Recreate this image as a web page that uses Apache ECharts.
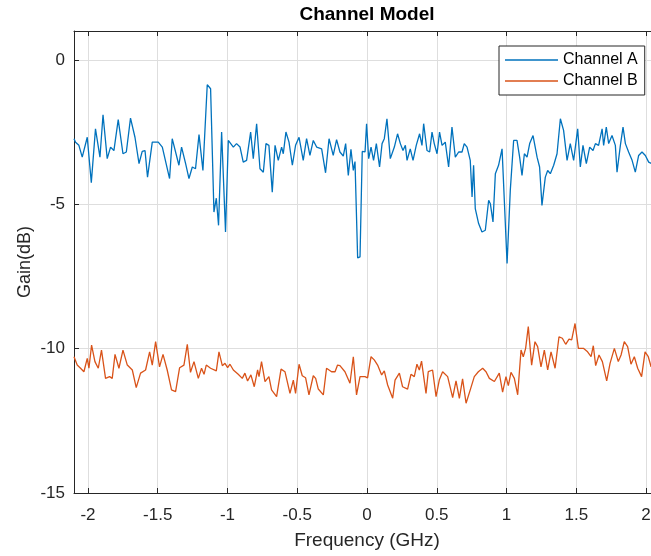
<!DOCTYPE html>
<html>
<head>
<meta charset="utf-8">
<script src="https://cdn.jsdelivr.net/npm/echarts@6/dist/echarts.min.js"></script>
<style>
    html, body { margin: 0; padding: 0; background: #fff; }
    #echart { width: 651px; height: 556px; }
</style>
</head>
<body>
<div id="echart"></div>
<script>
// Channel A: frequency (GHz) / gain (dB)
var freqA = [-2.100,-2.089,-2.077,-2.065,-2.041,-2.005,-1.976,-1.946,-1.914,-1.892,
    -1.862,-1.838,-1.814,-1.783,-1.749,-1.725,-1.695,-1.663,-1.634,-1.611,
    -1.591,-1.573,-1.539,-1.496,-1.467,-1.415,-1.396,-1.348,-1.329,-1.300,
    -1.276,-1.252,-1.229,-1.204,-1.176,-1.145,-1.121,-1.097,-1.080,-1.064,
    -1.042,-1.014,-0.994,-0.958,-0.935,-0.910,-0.887,-0.863,-0.834,-0.815,
    -0.791,-0.767,-0.743,-0.724,-0.703,-0.679,-0.659,-0.636,-0.612,-0.600,
    -0.581,-0.559,-0.535,-0.512,-0.487,-0.457,-0.433,-0.409,-0.385,-0.361,
    -0.325,-0.297,-0.272,-0.242,-0.218,-0.194,-0.170,-0.153,-0.134,-0.115,
    -0.098,-0.086,-0.067,-0.050,-0.034,-0.014,-0.003,0.012,0.029,0.047,
    0.067,0.090,0.108,0.124,0.143,0.167,0.196,0.219,0.239,0.258,
    0.275,0.287,0.310,0.330,0.353,0.377,0.394,0.406,0.430,0.449,
    0.466,0.482,0.502,0.520,0.538,0.561,0.585,0.609,0.633,0.657,
    0.681,0.697,0.717,0.740,0.753,0.764,0.776,0.800,0.824,0.848,
    0.872,0.884,0.903,0.920,0.943,0.968,1.004,1.027,1.051,1.075,
    1.094,1.111,1.128,1.147,1.166,1.190,1.219,1.237,1.254,1.278,
    1.295,1.314,1.338,1.362,1.386,1.409,1.434,1.457,1.481,1.510,
    1.529,1.548,1.572,1.596,1.620,1.637,1.660,1.685,1.696,1.715,
    1.732,1.756,1.780,1.792,1.816,1.835,1.852,1.875,1.900,1.923,
    1.947,1.971,1.995,2.019,2.038,2.060,2.080,2.100];
var gainA = [-2.73,-2.85,-2.89,-2.96,-3.37,-2.68,-4.25,-2.39,-3.37,-1.90,
    -3.42,-3.02,-3.14,-2.07,-3.25,-3.19,-2.02,-2.68,-3.59,-3.17,
    -3.14,-4.06,-2.85,-2.85,-3.02,-4.11,-2.73,-3.65,-3.02,-3.59,
    -4.11,-3.71,-3.77,-2.59,-3.83,-0.86,-1.00,-5.27,-4.79,-5.73,
    -2.50,-5.96,-2.79,-3.02,-2.90,-3.02,-3.54,-3.48,-2.50,-3.42,
    -2.21,-3.77,-3.89,-2.90,-2.96,-4.58,-2.96,-3.48,-3.02,-3.25,
    -2.50,-2.85,-3.65,-2.96,-2.68,-3.48,-2.73,-3.31,-2.79,-3.02,
    -3.08,-3.91,-2.73,-3.31,-2.76,-3.19,-3.33,-2.90,-4.00,-3.10,
    -3.83,-3.52,-6.86,-6.82,-3.17,-3.19,-2.21,-3.42,-3.02,-3.48,
    -2.90,-3.71,-2.90,-2.73,-2.04,-3.42,-3.02,-2.56,-2.90,-3.14,
    -2.96,-3.48,-3.08,-3.48,-2.96,-2.56,-2.96,-2.21,-3.14,-3.19,
    -2.50,-2.90,-3.25,-2.50,-2.96,-2.85,-3.71,-2.33,-3.37,-3.19,
    -3.19,-2.90,-3.02,-3.48,-4.75,-3.65,-5.15,-5.67,-5.96,-5.90,
    -4.86,-4.98,-5.61,-3.94,-3.65,-3.08,-7.05,-4.52,-2.79,-2.79,
    -3.37,-4.00,-3.25,-3.37,-2.90,-2.62,-3.37,-3.71,-5.04,-4.06,
    -3.83,-3.94,-3.65,-3.25,-2.04,-2.44,-3.48,-2.90,-3.48,-2.39,
    -3.71,-2.96,-3.59,-3.02,-3.14,-2.90,-2.96,-2.39,-2.96,-2.33,
    -2.90,-2.62,-2.96,-3.89,-2.96,-2.33,-2.90,-3.19,-3.48,-3.89,
    -3.31,-3.19,-3.31,-3.54,-3.59,-3.40,-3.60,-3.50];

// Channel B
var freqB = [-2.100,-2.077,-2.053,-2.029,-2.005,-1.993,-1.974,-1.950,-1.926,-1.903,
    -1.874,-1.845,-1.826,-1.806,-1.778,-1.749,-1.718,-1.682,-1.654,-1.623,
    -1.587,-1.558,-1.539,-1.515,-1.487,-1.462,-1.432,-1.401,-1.372,-1.343,
    -1.312,-1.288,-1.265,-1.240,-1.209,-1.186,-1.168,-1.152,-1.121,-1.080,
    -1.061,-1.037,-1.018,-0.999,-0.982,-0.958,-0.923,-0.894,-0.875,-0.856,
    -0.832,-0.808,-0.784,-0.774,-0.756,-0.731,-0.703,-0.684,-0.648,-0.616,
    -0.588,-0.552,-0.528,-0.512,-0.487,-0.464,-0.440,-0.416,-0.385,-0.368,
    -0.349,-0.313,-0.290,-0.254,-0.229,-0.211,-0.194,-0.158,-0.122,-0.098,
    -0.075,-0.050,-0.014,0.004,0.029,0.052,0.076,0.105,0.124,0.148,
    0.184,0.201,0.232,0.255,0.291,0.315,0.339,0.358,0.375,0.391,
    0.423,0.439,0.470,0.495,0.518,0.542,0.578,0.614,0.638,0.662,
    0.685,0.710,0.740,0.769,0.798,0.829,0.853,0.877,0.913,0.948,
    0.972,0.996,1.013,1.032,1.056,1.080,1.104,1.120,1.137,1.156,
    1.180,1.204,1.223,1.247,1.271,1.295,1.319,1.348,1.376,1.400,
    1.424,1.448,1.467,1.491,1.515,1.551,1.581,1.606,1.622,1.639,
    1.663,1.687,1.718,1.742,1.773,1.801,1.821,1.844,1.868,1.892,
    1.916,1.940,1.968,1.993,2.016,2.036,2.060,2.080,2.100];
var gainB = [-10.28,-10.57,-10.68,-10.80,-10.34,-10.68,-9.88,-10.45,-10.68,-10.05,
    -11.03,-10.97,-11.03,-10.20,-10.68,-10.05,-10.57,-10.74,-11.35,-10.85,
    -10.74,-10.11,-10.57,-9.76,-10.63,-10.20,-10.74,-11.43,-11.49,-10.66,
    -10.57,-9.85,-10.82,-10.45,-11.03,-10.68,-10.89,-10.57,-10.68,-10.77,
    -10.11,-10.59,-10.51,-10.66,-10.54,-10.74,-10.89,-11.03,-10.85,-11.12,
    -10.91,-11.32,-10.74,-10.97,-10.45,-11.14,-10.97,-11.43,-11.66,-10.71,
    -10.80,-11.55,-11.09,-11.55,-10.54,-10.94,-11.01,-11.60,-10.94,-11.03,
    -11.40,-11.60,-10.68,-10.80,-10.80,-10.57,-10.59,-10.80,-11.20,-10.28,
    -11.60,-10.97,-10.97,-11.01,-10.28,-10.39,-10.57,-10.91,-10.77,-11.26,
    -11.72,-11.09,-10.85,-11.32,-11.40,-10.89,-10.97,-10.54,-10.74,-10.43,
    -11.55,-10.80,-10.74,-11.66,-11.09,-10.80,-10.97,-11.70,-11.12,-11.72,
    -11.05,-11.89,-11.43,-10.97,-10.80,-10.68,-10.80,-11.03,-11.14,-10.85,
    -11.51,-10.97,-11.28,-10.82,-11.03,-11.60,-10.05,-10.28,-9.99,-9.24,
    -10.57,-9.76,-9.93,-10.63,-10.05,-10.74,-10.11,-10.68,-9.59,-9.64,
    -9.85,-9.67,-9.70,-9.13,-9.99,-9.99,-10.11,-10.28,-9.90,-10.59,
    -10.22,-10.45,-11.12,-10.51,-9.99,-10.45,-10.22,-9.76,-9.93,-10.54,
    -10.28,-10.68,-10.97,-10.11,-10.28,-10.63,-10.40,-10.60,-10.50];

var seriesNames = ['Channel A', 'Channel B'];
var xTicks = [-2, -1.5, -1, -0.5, 0, 0.5, 1, 1.5, 2];
var yTicks = [-15, -10, -5, 0];

function zip(xs, ys){
    return xs.map(function(x, i){ return [x, ys[i]]; });
}

var axisColor = '#262626';
var gridColor = '#dedede';
var font = 'Liberation Sans, Arial, Helvetica, sans-serif';
var lineIcon = 'path://M0,0 L100,0 L100,2.6 L0,2.6 Z';

var myChart = echarts.init(document.getElementById('echart'), null, {renderer: 'canvas'});
var option = {
    animation: false,
    backgroundColor: '#fff',
    title: {
        text: 'Channel Model',
        left: 367,
        top: 5,
        padding: 0,
        textAlign: 'center',
        textStyle: {
            fontFamily: font,
            fontSize: 19,
            fontWeight: 'bold',
            color: '#000'
        }
    },
    legend: {
        data: [
            { name: seriesNames[0], icon: lineIcon },
            { name: seriesNames[1], icon: lineIcon }
        ],
        orient: 'vertical',
        left: 499,
        top: 46,
        backgroundColor: '#fff',
        borderColor: axisColor,
        borderWidth: 1,
        borderRadius: 0,
        padding: [6, 7, 6, 6],
        itemWidth: 53,
        itemHeight: 14,
        itemGap: 5,
        textStyle: {
            fontFamily: font,
            fontSize: 16,
            color: '#000'
        }
    },
    grid: {
        left: 74,
        top: 31,
        width: 586,
        height: 462,
        outerBoundsMode: 'none',
        containLabel: false
    },
    xAxis: [{
        type: 'value',
        min: -2.1,
        max: 2.1,
        splitNumber: 8,
        name: 'Frequency (GHz)',
        nameLocation: 'middle',
        nameGap: 38,
        nameTextStyle: { fontFamily: font, fontSize: 19, color: axisColor },
        axisLine: { show: true, onZero: false, lineStyle: { color: axisColor, width: 1 } },
        axisTick: { show: true, inside: true, length: 5, lineStyle: { color: axisColor } },
        axisLabel: {
            showMinLabel: false,
            showMaxLabel: false,
            margin: 14,
            fontFamily: font,
            fontSize: 17,
            color: axisColor,
            formatter: function(v){
                var r = Math.round(v * 10) / 10;
                return xTicks.indexOf(r) >= 0 ? String(r) : '';
            }
        },
        splitLine: { show: true, lineStyle: { color: gridColor, width: 1 } }
    }, {
        type: 'value',
        position: 'top',
        min: -2.1,
        max: 2.1,
        splitNumber: 8,
        axisLine: { show: true, onZero: false, lineStyle: { color: axisColor, width: 1 } },
        axisTick: { show: true, inside: true, length: 5, lineStyle: { color: axisColor } },
        axisLabel: { show: false },
        splitLine: { show: false }
    }],
    yAxis: {
        type: 'value',
        min: -15,
        max: 1,
        interval: 5,
        name: 'Gain(dB)',
        nameLocation: 'middle',
        nameGap: 40,
        nameMoveOverlap: false,
        nameTextStyle: { fontFamily: font, fontSize: 18, color: axisColor },
        axisLine: { show: true, onZero: false, lineStyle: { color: axisColor, width: 1 } },
        axisTick: { show: true, inside: true, length: 5, lineStyle: { color: axisColor } },
        axisLabel: {
            showMaxLabel: false,
            margin: 9,
            fontFamily: font,
            fontSize: 17,
            color: axisColor,
            formatter: function(v){
                return yTicks.indexOf(v) >= 0 ? String(v) : '';
            }
        },
        splitLine: { show: true, lineStyle: { color: gridColor, width: 1 } }
    },
    series: [{
        name: seriesNames[0],
        type: 'line',
        symbol: 'none',
        smooth: false,
        color: '#0072BD',
        lineStyle: { color: '#0072BD', width: 1.3 },
        data: zip(freqA, gainA)
    }, {
        name: seriesNames[1],
        type: 'line',
        symbol: 'none',
        smooth: false,
        color: '#D95319',
        lineStyle: { color: '#D95319', width: 1.3 },
        data: zip(freqB, gainB)
    }]
};
myChart.setOption(option);
window.addEventListener('resize', function(){
    myChart.resize();
});
</script>
</body>
</html>
